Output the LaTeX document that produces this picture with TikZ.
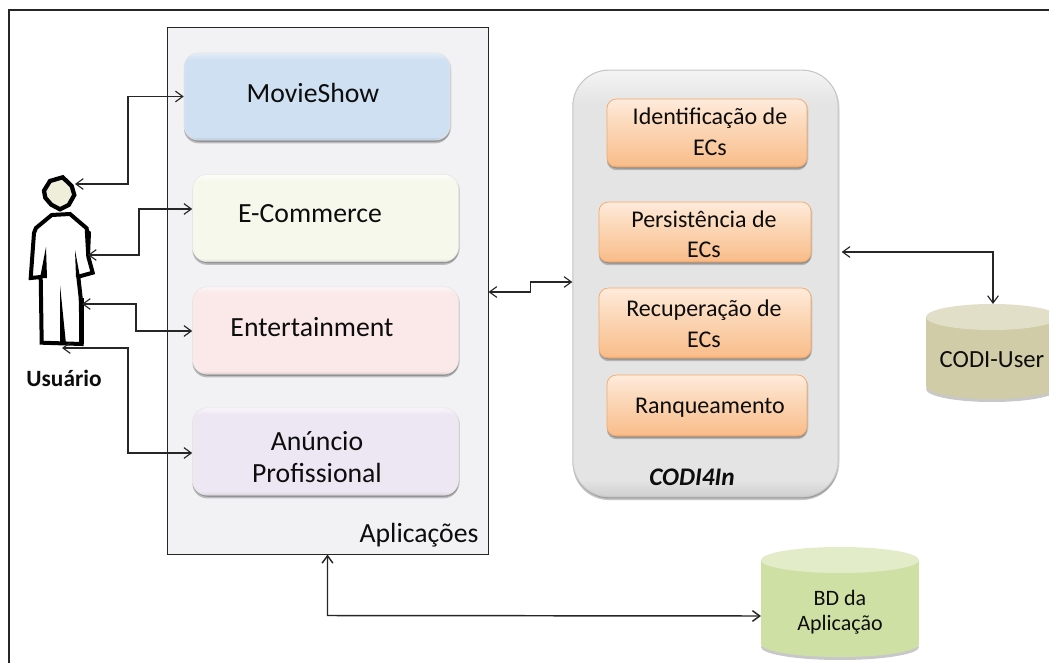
\documentclass[tikz,border=0pt]{standalone}
\usepackage{fontspec}
\setmainfont{Carlito}
\usetikzlibrary{arrows.meta,calc}
\newcommand{\mkshade}[4]{%
  \definecolor{#1M}{HTML}{#2}\definecolor{#1L}{HTML}{#3}\definecolor{#1D}{HTML}{#4}%
  \pgfdeclareverticalshading{#1S}{100bp}{color(0bp)=(#1D); color(25bp)=(#1D); color(27bp)=(#1M); color(71bp)=(#1M); color(75bp)=(#1L); color(100bp)=(#1L)}}
\mkshade{mov}{CFE0F2}{E3EDF7}{B3C6DA}
\mkshade{eco}{F6F8EC}{FCFDF8}{DFE2D2}
\mkshade{ent}{FBE8E8}{FDF5F5}{E5D0D0}
\mkshade{anu}{EDE6F3}{F8F5FA}{D8D0DE}
\mkshade{cod}{E4E4E4}{F4F4F4}{CFCFCF}
\definecolor{ecA}{HTML}{F4A868}\definecolor{ecB}{HTML}{F9BE8C}\definecolor{ecC}{HTML}{FCDCC0}\definecolor{ecD}{HTML}{FFEBDC}
\pgfdeclareverticalshading{ecS}{100bp}{color(0bp)=(ecA); color(25bp)=(ecA); color(27bp)=(ecB); color(60bp)=(ecC); color(75bp)=(ecD); color(100bp)=(ecD)}
\definecolor{appsbg}{HTML}{F2F1F3}
\tikzset{
  softshadow/.style={preaction={fill=black!70,opacity=.22,transform canvas={yshift=-1.2pt}},
                     preaction={fill=black!70,opacity=.32,transform canvas={yshift=-2.4pt}},
                     preaction={fill=black!70,opacity=.2,transform canvas={xshift=1pt,yshift=-1.2pt}}},
  appbox/.style={rectangle,rounded corners=11pt,minimum width=199.5pt,minimum height=65.5pt,softshadow,draw=white!80!gray,line width=.4pt,inner sep=0},
  ecbox/.style={rectangle,rounded corners=7pt,softshadow,shading=ecS,draw=ecA,line width=.5pt,inner sep=0},
  lbl/.style={inner sep=0,text=black!95},
  big/.style={lbl,font=\fontsize{20.8}{24}\selectfont},
  mid/.style={lbl,font=\fontsize{18}{21}\selectfont},
  dbt/.style={lbl,font=\fontsize{16.5}{18}\selectfont},
  conn/.style={draw=black!85,line width=.85pt,{Straight Barb[length=5.5pt,width=8pt]}-{Straight Barb[length=5.5pt,width=8pt]}},
  frame/.style={draw=black!85,line width=1pt},
  person/.style={draw=black,line width=3pt,line join=miter,fill=white},
  personwedge/.style={fill=black},
}
\newcommand{\dbcyl}[5]{% centre x, top y, bottom y, half width ; colours: #5 prefix
  \fill[black!70,opacity=.3] (#1,#3+3) ellipse [x radius=#4,y radius=13];
  \fill[#5M] (#1,#3) ellipse [x radius=#4,y radius=13];
  \fill[#5M] (#1-#4,#2+13) rectangle (#1+#4,#3);
  \fill[#5L] (#1,#2+13) ellipse [x radius=#4,y radius=13];}
\definecolor{bdM}{HTML}{CFE0A5}\definecolor{bdL}{HTML}{E3ECC9}
\definecolor{cuM}{HTML}{D0CCA8}\definecolor{cuL}{HTML}{E2DFC9}
\begin{document}
\begin{tikzpicture}[x=.75pt,y=-.75pt]
\useasboundingbox (0,0) rectangle (1049,663);
\fill[white] (0,0) rectangle (1049,663);
% page frame
\coordinate (fa) at (9,663);\coordinate (fb) at (9,10);\coordinate (fc) at (1049,10);
\draw[frame] (fa) -- (fb) -- (fc);
% Aplicacoes
\node[rectangle,draw=black!85,fill=appsbg,line width=.75pt,minimum width=240.75pt,minimum height=394.5pt,inner sep=0] (apps) at (327.5,291) {};
\node[big] (appsl) at (419,535) {Aplicações};
\node[appbox,shading=movS] (movie) at (317,96.5) {};
\node[big] (moviel) at (313,93) {MovieShow};
\node[appbox,shading=ecoS] (ecom) at (325.5,218) {};
\node[big] (ecoml) at (310,214) {E-Commerce};
\node[appbox,shading=entS] (ent) at (325.5,330.5) {};
\node[big] (entl) at (312,327) {Entertainment};
\node[appbox,shading=anuS] (anun) at (325.5,451.5) {};
\node[big] (anunl) at (317,441) {Anúncio};
\node[big] (anunm) at (317,473) {Profissional};
% CODI4In
\node[rectangle,rounded corners=27pt,minimum width=199pt,minimum height=320pt,softshadow,shading=codS,draw=black!22,line width=.8pt,inner sep=0] (codi) at (705.5,283.5) {};
\node[ecbox,minimum width=150pt,minimum height=51pt] (ident) at (707,133) {};
\node[mid] (identa) at (710,118) {Identificação de};
\node[mid] (identb) at (710,148) {ECs};
\node[ecbox,minimum width=159pt,minimum height=45pt] (pers) at (705,232) {};
\node[mid] (persa) at (704,219) {Persistência de};
\node[mid] (persb) at (704,250) {ECs};
\node[ecbox,minimum width=159pt,minimum height=52.5pt] (recu) at (705,323) {};
\node[mid] (recua) at (704,310) {Recuperação de};
\node[mid] (recub) at (704,340) {ECs};
\node[ecbox,minimum width=150pt,minimum height=45.75pt] (rank) at (707,405.5) {};
\node[mid] (rankl) at (710,408) {Ranqueamento};
\node[lbl,font=\fontsize{19}{22}\selectfont\bfseries\itshape] (codil) at (692,477) {CODI4In};
% databases
\dbcyl{992}{304}{386}{66}{cu}
\node[dbt,font=\fontsize{18.5}{20}\selectfont] (cuser) at (992,360) {CODI-User};
\coordinate (cutop) at (993,304);
\dbcyl{840}{547}{644}{79}{bd}
\node[dbt] (bda) at (840,598) {BD da};
\node[dbt] (bdb) at (840,625) {Aplicação};
\coordinate (bdw) at (761,616);
% user
\draw[person,line width=3.2pt,fill=black!8!white!92!yellow] (50,181) -- (62.7,177.3) -- (71.7,186) -- (74.3,195) -- (68.7,205) -- (60,209.3) -- (51.3,204.7) -- (45.3,197.7) -- (44,190.7) -- cycle;
\draw[person] (51.7,215) -- (36,228) -- (34,233) -- (30.7,278) -- (40.7,277) -- (41.7,342.7) -- (81.7,344) -- (80.7,298) -- (78.3,276.7) -- (92.7,272.7) -- (88.3,256.7) -- (86.7,228.3) -- (70,214) -- cycle;
\fill[personwedge] (46,247) -- (40,278) -- (47,278) -- cycle;
\fill[personwedge] (60,285) -- (60,344) -- (66,344) -- cycle;
\fill[personwedge] (75,250) -- (76,277) -- (80,277) -- cycle;
\fill[personwedge] (86,228) -- (91,232) -- (90,256) -- (86,256) -- cycle;
\fill[personwedge] (79,298) -- (84,298) -- (84,344) -- (79,344) -- cycle;
\coordinate (uhead) at (75,184);
\coordinate (uchest) at (88,255);
\coordinate (ulegs) at (82,304);
\coordinate (ufeet) at (62,348);
\node[lbl,font=\fontsize{17.5}{20}\selectfont\bfseries] (ulabel) at (64,378) {Usuário};
% connectors
\draw[conn] (uhead) -- ++(53,0) |- (movie.west);
\draw[conn] (uchest) -- ++(51,0) |- ($(ecom.west)+(0,-9)$);
\draw[conn] (ulegs) -- ++(54,0) |- ($(ent.west)+(0,.5)$);
\draw[conn] (ufeet) -- ++(66,0) |- ($(anun.west)+(0,1.5)$);
\draw[conn] ($(apps.east)+(0,1)$) -- ++(42,0) |- ($(codi.west)+(0,-1.5)$);
\draw[conn] ($(codi.east)+(3,-31.5)$) -| (cutop);
\draw[conn,line width=1.1pt] (apps.south) -- ++(0,61) -- (bdw);
\end{tikzpicture}
\end{document}
